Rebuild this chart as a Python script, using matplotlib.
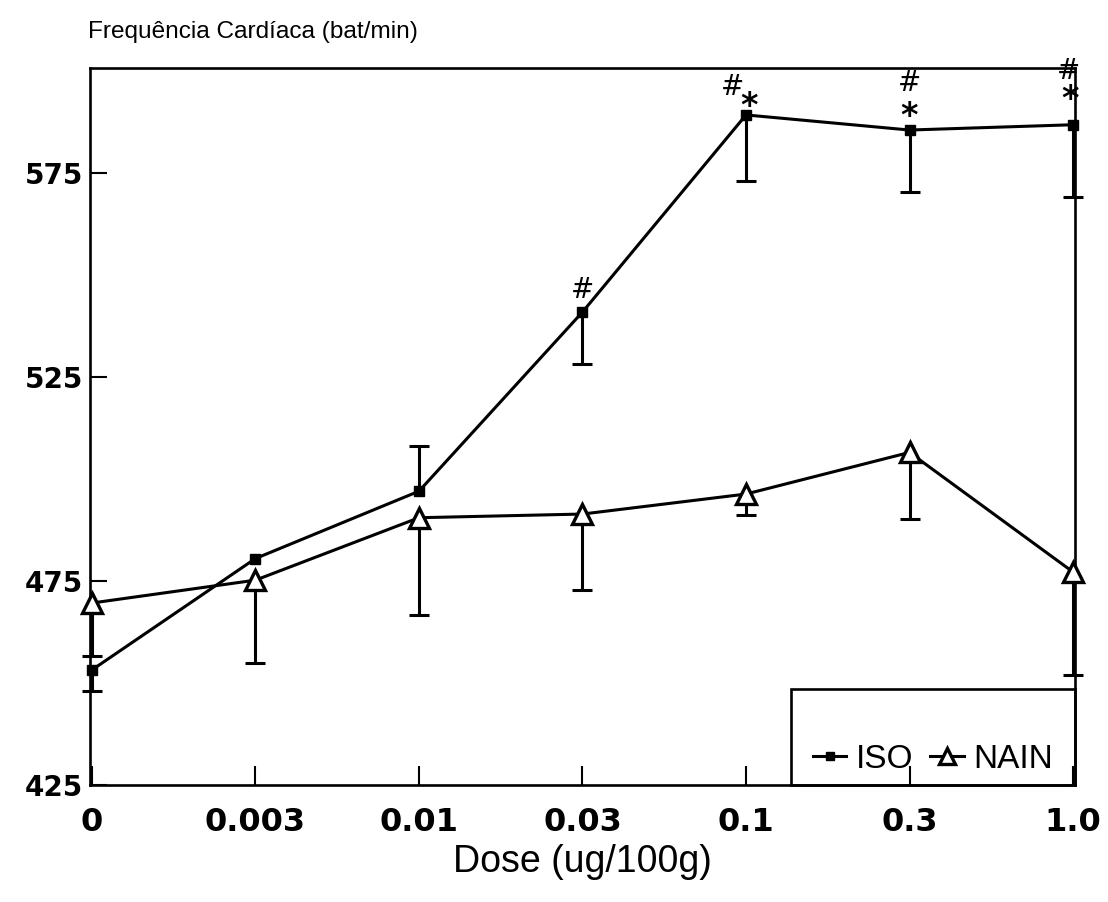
#!/usr/bin/env python3
# -*- coding: utf-8 -*-

"""
Frequência cardíaca vs dose: ISO x NAIN (média com desvio).
"""

import numpy as np
import matplotlib
matplotlib.use("Agg")
import matplotlib.pyplot as plt
from matplotlib.patches import Rectangle

doses = ["0", "0.003", "0.01", "0.03", "0.1", "0.3", "1.0"]

iso_mean = [453.2, 480.5, 497.0, 540.9, 589.2, 585.5, 586.8]
iso_err_low = [5.2, 0.0, 0.0, 12.7, 16.2, 15.2, 17.8]
iso_err_high = [0.0, 0.0, 11.0, 0.0, 0.0, 0.0, 0.0]

nain_mean = [469.6, 475.2, 490.5, 491.4, 496.3, 506.5, 477.2]
nain_err_low = [13.0, 20.3, 23.8, 18.6, 5.1, 16.3, 25.2]

# marcas de significância acima da curva ISO: (índice da dose, símbolo, deslocamento x, y em pt)
iso_marks = [
    (3, "#", 0, 16),
    (4, "#", -10, 20),
    (4, "*", 2, 12),
    (5, "#", 0, 34),
    (5, "*", 0, 16),
    (6, "#", -3, 39),
    (6, "*", -2, 24),
]

BOLD = {"family": "DejaVu Sans", "weight": "bold"}
LW = 2.2


def draw_bars(ax, x, y, err, sign):
    # barras de erro de um lado só, com traço no fim
    x = np.asarray(x, dtype=float)
    y = np.asarray(y, dtype=float)
    err = np.asarray(err, dtype=float)
    keep = err > 0
    end = y + sign * err
    ax.vlines(x[keep], y[keep], end[keep], colors="black", linewidth=LW,
              zorder=2, clip_on=False)
    ax.plot(x[keep], end[keep], linestyle="none", marker="_", markersize=15,
            markeredgewidth=LW, color="black", zorder=2, clip_on=False)


fig = plt.figure(figsize=(11.08, 9.02), dpi=100)
ax = fig.add_axes([0.0812, 0.1297, 0.889, 0.7949])

x = np.arange(len(doses))

draw_bars(ax, x, iso_mean, iso_err_low, -1)
draw_bars(ax, x, iso_mean, iso_err_high, +1)
draw_bars(ax, x, nain_mean, nain_err_low, -1)

ax.plot(x, iso_mean, color="black", linewidth=LW, marker="s", markersize=7,
        markerfacecolor="black", markeredgecolor="black", label="ISO",
        zorder=3, clip_on=False)
ax.plot(x, nain_mean, color="black", linewidth=LW, marker="^", markersize=15,
        markerfacecolor="white", markeredgecolor="black", markeredgewidth=2.4,
        label="NAIN", zorder=4, clip_on=False)

for i, sym, dx, dy in iso_marks:
    if sym == "#":
        ax.annotate(sym, xy=(x[i], iso_mean[i]), xytext=(dx, dy), textcoords="offset points",
                    ha="center", va="center", fontsize=20, family="DejaVu Sans",
                    zorder=5, annotation_clip=False)
    else:
        ax.annotate(sym, xy=(x[i], iso_mean[i]), xytext=(dx, dy - 6), textcoords="offset points",
                    ha="center", va="center", fontsize=24, fontweight="bold",
                    family="DejaVu Sans", zorder=5, annotation_clip=False)

ax.set_xlim(-0.012, 6.012)
ax.set_ylim(425, 600.7)
ax.set_xticks(x)
ax.set_xticklabels(doses, fontdict=dict(BOLD, size=23))
ax.set_yticks([425, 475, 525, 575])
ax.set_yticklabels(["425", "475", "525", "575"], fontdict=dict(BOLD, size=20))

ax.tick_params(axis="x", direction="in", length=14, width=1.5, pad=16)
ax.tick_params(axis="y", direction="in", length=12, width=1.5, pad=5)

for side in ["left", "right", "top", "bottom"]:
    ax.spines[side].set_linewidth(1.9)
    ax.spines[side].set_color("black")

ax.set_xlabel("Dose (ug/100g)", fontsize=27, family="Liberation Sans", labelpad=4)
fig.text(0.079, 0.958, "Frequência Cardíaca (bat/min)", fontsize=17.6,
         family="Liberation Sans", ha="left", va="baseline")

# caixa da legenda: texto encostado na parte de baixo
ax.add_patch(Rectangle((0.712, 0.0), 0.288, 0.134, transform=ax.transAxes,
                       facecolor="none", edgecolor="black", linewidth=1.9,
                       zorder=6, clip_on=False))
leg = ax.legend(loc="center", bbox_to_anchor=(0.856, 0.036), ncol=2,
                frameon=False, borderpad=0.0, borderaxespad=0,
                handlelength=1.0, handletextpad=0.3, columnspacing=0.5,
                prop={"family": "Liberation Sans", "size": 24},
                markerscale=0.75)
leg.set_zorder(7)

fig.savefig("out.png", dpi=100)
